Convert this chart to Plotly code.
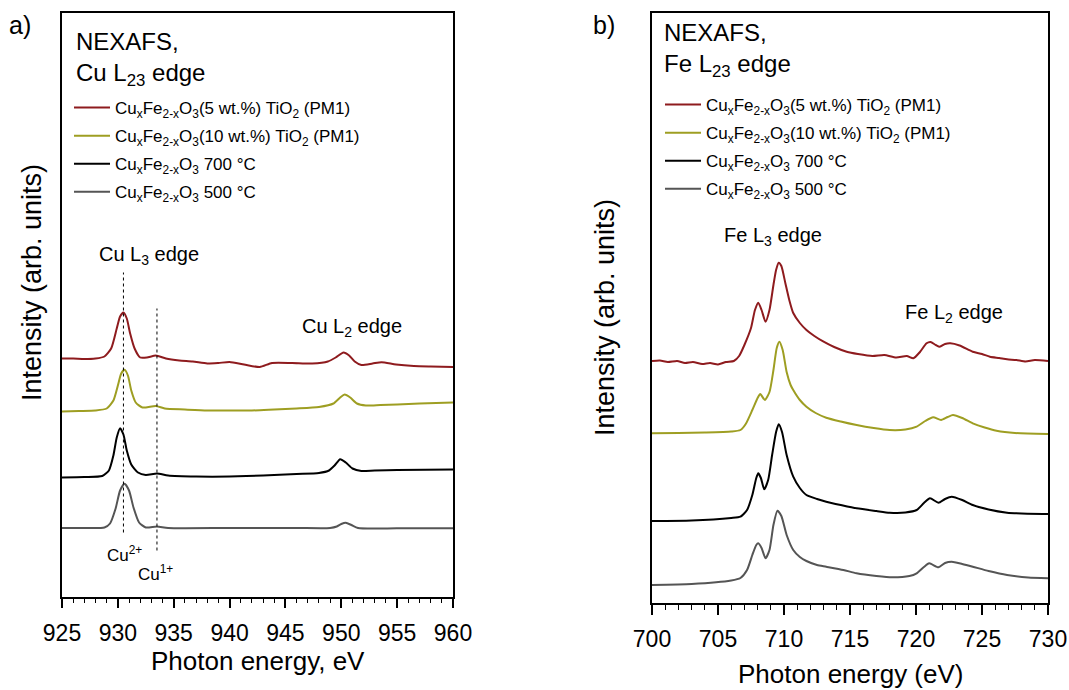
import plotly.graph_objects as go

W, H = 1069, 690
FONT = "Liberation Sans, Arial, sans-serif"

# ---------------- Panel a) Cu L23 edge ----------------
cu_red_x = [925.0, 926.0, 927.0, 928.0, 928.8, 929.4, 929.9, 930.2, 930.5, 930.8, 931.1, 931.5, 932.0, 932.6,
            933.4, 934.3, 935.5, 936.7, 938.0, 939.0, 940.0, 941.3, 942.7, 943.8, 945.6, 947.4, 948.8, 949.5,
            950.2, 950.7, 951.2, 951.8, 952.8, 953.6, 954.9, 956.5, 958.0, 960.0]
cu_red_y = [238, 238, 237.5, 238, 240, 248, 268, 280, 284, 278, 263, 248, 239, 239,
            241, 238, 236, 235, 233, 233.5, 234.5, 232, 229.5, 233.5, 233.5, 233, 235, 239,
            244, 241, 235, 231.5, 233, 234.3, 232, 230.5, 230, 229.5]

cu_olive_x = [925, 926.5, 928, 929, 929.6, 930.0, 930.3, 930.6, 930.9, 931.2, 931.6, 932.2, 933.4, 934.2,
              936, 938, 940, 942, 944, 946, 948, 949.3, 949.9, 950.3, 950.8, 951.4, 952.2, 953.5, 955, 957, 960]
cu_olive_y = [185, 185.5, 186, 188, 196, 211, 223, 226.7, 221, 206, 194, 189, 190.5, 188,
              187, 186, 186, 186, 187, 188, 189.5, 193, 199, 202, 199, 193, 191, 191.5, 192, 193, 194]

cu_black_x = [925, 927, 928.6, 929.2, 929.6, 929.9, 930.2, 930.5, 930.8, 931.2, 931.8, 932.5, 933.5, 934.5,
              937, 940, 943, 946, 948, 948.9, 949.4, 949.9, 950.4, 951.0, 951.8, 953, 955, 960]
cu_black_y = [119, 119.5, 120.5, 126, 141, 159, 168.3, 162, 146, 132, 124, 121.5, 123, 121,
              120, 120, 121, 122.5, 123.5, 126, 131, 137.3, 134, 128, 125.5, 126, 126.5, 127]

cu_gray_x = [925, 927, 928.8, 929.3, 929.8, 930.2, 930.6, 931.0, 931.4, 931.9, 932.5, 933.5, 934.5,
             940, 946, 949, 949.6, 950.0, 950.4, 950.9, 951.5, 955, 960]
cu_gray_y = [68.5, 68.5, 69, 73, 88, 106, 112.7, 106, 89, 74, 69, 70, 68.5,
             68.5, 68.5, 68.5, 70, 72.5, 73.7, 71.5, 68.5, 68.2, 68.2]

# reference energies marked by dotted lines (eV) and their vertical extents (arb. units)
cu_marks_x = [930.5, 933.5]
cu_marks_y0 = [64, 46]
cu_marks_y1 = [324, 288]

# ---------------- Panel b) Fe L23 edge ----------------
fe_red_x = [700, 700.6, 701.2, 701.9, 702.5, 703.1, 703.8, 704.4, 705.0, 705.6, 706.2, 706.6, 707.0, 707.5,
            707.8, 708.05, 708.3, 708.6, 708.9, 709.2, 709.4, 709.6, 709.8, 710.1, 710.4, 710.7, 711.2, 711.7,
            712.3, 713.0, 713.8, 714.75, 715.6, 716.7, 717.6, 718.5, 719.3, 719.8, 720.3, 720.8, 721.1, 721.5,
            721.8, 722.2, 722.6, 723.3, 724.3, 725.0, 725.6, 726.3, 726.9, 727.6, 728.3, 729.0, 730.0]
fe_red_y = [240, 240.5, 239, 240, 238, 239, 237, 238, 236.5, 239, 240, 245, 256, 273,
            291, 298.3, 291, 279.3, 291, 316, 331, 338.3, 335, 318, 301, 288, 278, 271,
            265, 259.3, 254, 249.3, 247, 245, 246, 243.5, 245, 242.7, 249, 257.7, 259, 256,
            254.3, 257, 257.7, 255.5, 249.3, 247, 244.3, 243, 241.7, 241, 239.5, 241, 240]

fe_olive_x = [700, 702, 704, 706, 706.7, 707.1, 707.6, 708.0, 708.2, 708.55, 708.9, 709.2, 709.45, 709.65,
              709.9, 710.2, 710.5, 710.7, 711.2, 711.7, 712.4, 713.2, 714.3, 715.5, 716.8, 718.0, 719.2,
              720.05, 720.7, 721.3, 721.9, 722.4, 722.8, 723.5, 724.3, 725.2, 726.1, 727.5, 730]
fe_olive_y = [167.7, 168, 168.5, 169.5, 171, 177, 191, 203, 207, 201, 209, 231, 253, 259.3,
              251, 229, 216, 211, 201, 194.3, 188, 183.3, 179.5, 176, 173, 171, 171.5,
              174.3, 180, 183.7, 181, 184, 186, 183, 177.7, 173.5, 170.3, 168, 167]

fe_black_x = [700, 703, 706, 706.7, 707.2, 707.6, 707.9, 708.05, 708.25, 708.5, 708.8, 709.1, 709.4, 709.6,
              709.85, 710.2, 710.7, 711.2, 711.7, 712.5, 713.2, 714.3, 715.5, 717.0, 718.0, 719.2, 720.05,
              720.6, 721.06, 721.7, 722.2, 722.7, 723.5, 724.3, 725.5, 726.9, 728, 730]
fe_black_y = [80, 80.5, 83, 84.3, 91, 106, 123, 127.7, 123, 111.7, 121, 146, 169, 176.7,
              169, 146, 124.3, 113, 106, 102, 99.3, 96, 92.7, 90, 88.3, 88.5, 91,
              98, 102.7, 98.3, 102, 104.3, 101, 96, 91.5, 88.3, 87.5, 87]

fe_gray_x = [700, 703, 706, 706.7, 707.2, 707.6, 707.9, 708.05, 708.3, 708.6, 708.9, 709.2, 709.5, 709.8,
             710.2, 710.7, 711.2, 711.7, 712.5, 713.2, 714.5, 715.5, 717.0, 718.2, 719.5, 720.05, 720.6,
             721.0, 721.7, 722.2, 722.7, 723.5, 724.3, 725.5, 726.9, 728.5, 730]
fe_gray_y = [16, 17, 20.5, 23, 31, 46, 56, 57.7, 53, 42.7, 51, 76, 90.3, 85,
             66, 51, 44, 40, 36, 34.3, 31, 27.7, 25, 23.7, 25, 27.7, 34,
             37.7, 33.7, 38, 39.3, 37, 34.3, 30, 26, 23.5, 22.7]

names = [
    "Cu<sub>x</sub>Fe<sub>2-x</sub>O<sub>3</sub>(5 wt.%) TiO<sub>2</sub> (PM1)",
    "Cu<sub>x</sub>Fe<sub>2-x</sub>O<sub>3</sub>(10 wt.%) TiO<sub>2</sub> (PM1)",
    "Cu<sub>x</sub>Fe<sub>2-x</sub>O<sub>3</sub> 700 °C",
    "Cu<sub>x</sub>Fe<sub>2-x</sub>O<sub>3</sub> 500 °C",
]
colors = ["#8E1B1E", "#9E9E22", "#000000", "#555555"]

cu_series = [(cu_red_x, cu_red_y), (cu_olive_x, cu_olive_y), (cu_black_x, cu_black_y), (cu_gray_x, cu_gray_y)]
fe_series = [(fe_red_x, fe_red_y), (fe_olive_x, fe_olive_y), (fe_black_x, fe_black_y), (fe_gray_x, fe_gray_y)]


def px(x):
    return x / W


def py(y):
    return 1 - y / H


fig = go.Figure()
for i, (xs, ys) in enumerate(cu_series):
    fig.add_trace(go.Scatter(x=xs, y=ys, mode="lines", name=names[i],
                             line=dict(color=colors[i], width=2, shape="spline", smoothing=0.6),
                             xaxis="x", yaxis="y", legend="legend", legendgroup="a%d" % i))
for i, (xs, ys) in enumerate(fe_series):
    fig.add_trace(go.Scatter(x=xs, y=ys, mode="lines", name=names[i],
                             line=dict(color=colors[i], width=2, shape="spline", smoothing=0.6),
                             xaxis="x2", yaxis="y2", legend="legend2", legendgroup="b%d" % i))

for xm, y0, y1 in zip(cu_marks_x, cu_marks_y0, cu_marks_y1):
    fig.add_shape(type="line", xref="x", yref="y", x0=xm, x1=xm, y0=y0, y1=y1,
                  line=dict(color="black", width=1, dash="dot"))

xax_common = dict(showline=True, mirror=True, linecolor="black", linewidth=1.5,
                  ticks="outside", ticklen=10, tickwidth=1.5, tickcolor="black",
                  showgrid=False, zeroline=False, dtick=5, automargin=False,
                  ticklabelstandoff=5,
                  tickfont=dict(family=FONT, size=23, color="black"),
                  minor=dict(dtick=1, ticks="outside", ticklen=5, tickwidth=1, tickcolor="black"))
yax_common = dict(showline=True, mirror=True, linecolor="black", linewidth=1.5, automargin=False,
                  ticks="", showticklabels=False, showgrid=False, zeroline=False)

fig.update_layout(
    width=W, height=H, margin=dict(l=0, r=0, t=0, b=0, autoexpand=False),
    paper_bgcolor="white", plot_bgcolor="white",
    font=dict(family=FONT, color="black"),
    xaxis=dict(domain=[px(62), px(453)], range=[925, 960], anchor="y", tick0=925, **xax_common),
    yaxis=dict(domain=[py(596.5), py(13)], range=[0, 583.5], anchor="x", **yax_common),
    xaxis2=dict(domain=[px(652), px(1048)], range=[700, 730], anchor="y2", tick0=700, **xax_common),
    yaxis2=dict(domain=[py(603), py(13)], range=[-2, 588], anchor="x2", **yax_common),
    legend=dict(x=px(69), y=py(90), xanchor="left", yanchor="top", bgcolor="rgba(0,0,0,0)",
                font=dict(family=FONT, size=17, color="black"), tracegroupgap=3, itemwidth=36),
    legend2=dict(x=px(660), y=py(87), xanchor="left", yanchor="top", bgcolor="rgba(0,0,0,0)",
                 font=dict(family=FONT, size=17, color="black"), tracegroupgap=3, itemwidth=36),
    showlegend=True,
)

ann = []


def text(x, y, t, size, xanchor="center", yanchor="middle", angle=0):
    ann.append(dict(x=px(x), y=py(y), xref="paper", yref="paper", text=t, showarrow=False,
                    xanchor=xanchor, yanchor=yanchor, textangle=angle, align="left",
                    font=dict(family=FONT, size=size, color="black")))


# panel letters
text(20, 25, "a)", 25)
text(604, 25, "b)", 25)
# panel headings
text(74, 26, "NEXAFS,<br>Cu L<sub>23</sub> edge", 24, xanchor="left", yanchor="top")
text(662, 17, "NEXAFS,<br>Fe L<sub>23</sub> edge", 24, xanchor="left", yanchor="top")
# axis titles
text(258, 661, "Photon energy, eV", 26)
text(850, 674, "Photon energy (eV)", 26)
text(32, 283, "Intensity (arb. units)", 27, angle=-90)
text(605, 318, "Intensity (arb. units)", 27, angle=-90)
fig.update_layout(annotations=ann)

# peak labels in data coordinates
fig.add_annotation(x=932.8, y=341, xref="x", yref="y", text="Cu L<sub>3</sub> edge", showarrow=False,
                   font=dict(family=FONT, size=20, color="black"))
fig.add_annotation(x=951.0, y=269, xref="x", yref="y", text="Cu L<sub>2</sub> edge", showarrow=False,
                   font=dict(family=FONT, size=20, color="black"))
fig.add_annotation(x=930.6, y=43, xref="x", yref="y", text="Cu<sup>2+</sup>", showarrow=False,
                   font=dict(family=FONT, size=17, color="black"))
fig.add_annotation(x=933.4, y=24, xref="x", yref="y", text="Cu<sup>1+</sup>", showarrow=False,
                   font=dict(family=FONT, size=17, color="black"))
fig.add_annotation(x=709.2, y=365, xref="x2", yref="y2", text="Fe L<sub>3</sub> edge", showarrow=False,
                   font=dict(family=FONT, size=20, color="black"))
fig.add_annotation(x=722.9, y=288, xref="x2", yref="y2", text="Fe L<sub>2</sub> edge", showarrow=False,
                   font=dict(family=FONT, size=20, color="black"))

fig.write_html("out.html")
